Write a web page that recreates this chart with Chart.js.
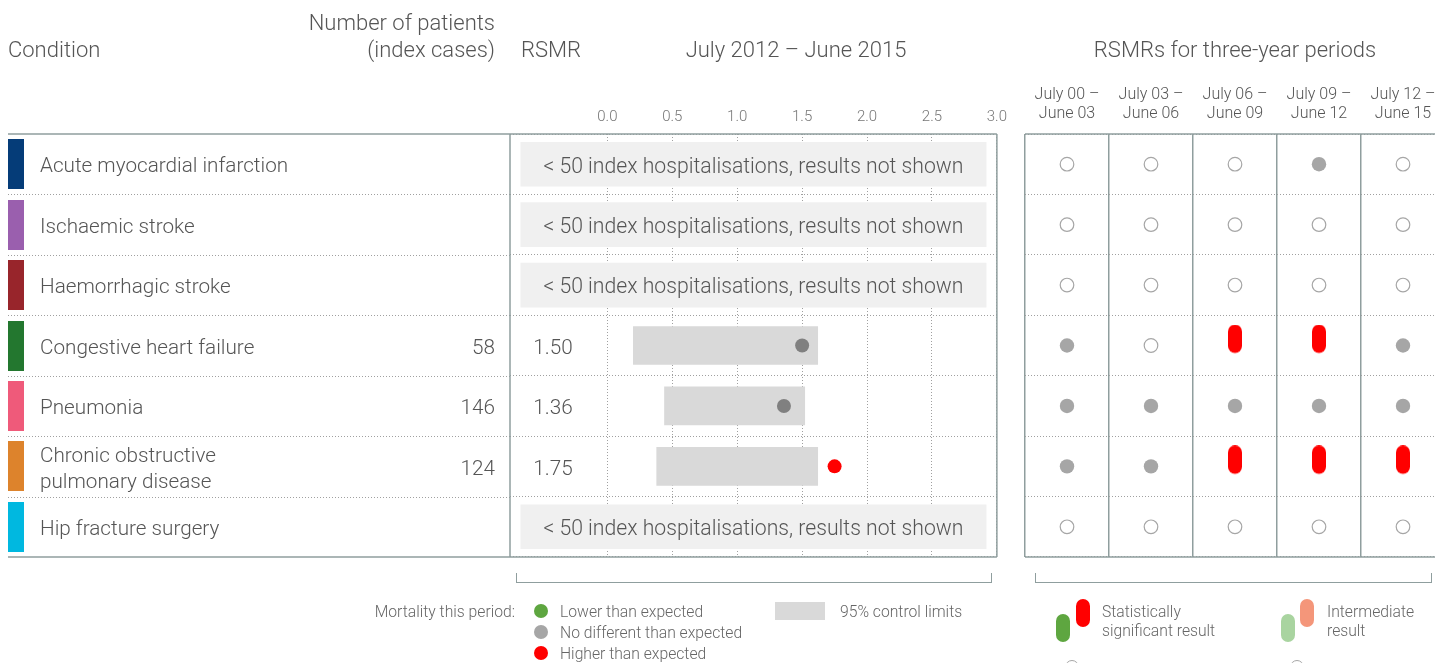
<!DOCTYPE html>
<html><head><meta charset="utf-8">
<script src="https://cdn.jsdelivr.net/npm/chart.js@4/dist/chart.umd.min.js"></script>
<style>
html,body{margin:0;padding:0;background:#fff;overflow:hidden;width:1435px;height:663px;}
body{position:relative;font-family:Roboto,'Liberation Sans',sans-serif;font-weight:300;color:#555;}
.t{position:absolute;white-space:nowrap;line-height:24px;height:24px;}
.h{font-size:22px;}
.l{font-size:15.7px;color:#666;}
#wa{position:absolute;left:0;top:0;width:1015px;height:663px;}
#wb{position:absolute;left:1000px;top:0;width:460px;height:663px;}
.dot{position:absolute;width:14px;height:14px;border-radius:7px;}
.pill{position:absolute;width:14px;height:28px;border-radius:7px;}
.br{position:absolute;border:1.5px solid #8f9e9e;border-top:none;height:9px;}
</style></head>
<body>
<div id="wa"><canvas id="ca"></canvas></div>
<div id="wb"><canvas id="cb"></canvas></div>

<div class="t h" style="left:8px;top:38px;">Condition</div>
<div class="t h" style="right:940px;top:11px;">Number of patients</div>
<div class="t h" style="right:940px;top:38px;">(index cases)</div>
<div class="t h" style="left:521px;top:38px;">RSMR</div>
<div class="t h" style="left:796px;top:38px;transform:translateX(-50%);">July 2012 – June 2015</div>
<div class="t h" style="left:1235px;top:38px;transform:translateX(-50%);">RSMRs for three-year periods</div>

<div class="br" style="left:516px;top:573px;width:474px;"></div>
<div class="br" style="left:1035px;top:573px;width:395px;"></div>

<div class="t l" style="right:920px;top:600px;">Mortality this period:</div>
<div class="dot" style="left:534px;top:604px;background:#5ea640;"></div>
<div class="t l" style="left:560px;top:600px;">Lower than expected</div>
<div class="dot" style="left:534px;top:625px;background:#a6a6a6;"></div>
<div class="t l" style="left:560px;top:621px;">No different than expected</div>
<div class="dot" style="left:534px;top:646px;background:#ff0000;"></div>
<div class="t l" style="left:560px;top:642px;">Higher than expected</div>
<div style="position:absolute;left:775px;top:602px;width:50px;height:18px;background:#d9d9d9;"></div>
<div class="t l" style="left:840px;top:600px;">95% control limits</div>

<div class="pill" style="left:1056px;top:614px;background:#5ea640;"></div>
<div class="pill" style="left:1076px;top:599px;background:#ff0000;"></div>
<div class="t l" style="left:1102px;top:600px;">Statistically</div>
<div class="t l" style="left:1102px;top:619px;">significant result</div>
<div class="pill" style="left:1281px;top:614px;background:#a9d4a0;"></div>
<div class="pill" style="left:1300px;top:599px;background:#f4967a;"></div>
<div class="t l" style="left:1327px;top:600px;">Intermediate</div>
<div class="t l" style="left:1327px;top:619px;">result</div>
<div class="dot" style="left:1065px;top:660px;border:1.2px solid #a6a6a6;box-sizing:border-box;"></div>
<div class="dot" style="left:1290px;top:660px;border:1.2px solid #a6a6a6;box-sizing:border-box;"></div>

<script>
// ---------- data ----------
const conditions = ['Acute myocardial infarction','Ischaemic stroke','Haemorrhagic stroke','Congestive heart failure','Pneumonia',['Chronic obstructive','pulmonary disease'],'Hip fracture surgery'];
const conditionColors = ['#053c78','#9a5fae','#98252b','#23772f','#ef5a7a','#dd832c','#00b8e0'];
const patients = [null,null,null,58,146,124,null];
const rsmr = [null,null,null,1.50,1.36,1.75,null];
const rsmrStatus = [null,null,null,'same','same','higher',null];
const limitLow = [null,null,null,0.20,0.44,0.38,null];
const limitHigh = [null,null,null,1.62,1.52,1.62,null];
const axisTicks = [0,0.5,1.0,1.5,2.0,2.5,3.0];
const periods = [['July 00 –','June 03'],['July 03 –','June 06'],['July 06 –','June 09'],['July 09 –','June 12'],['July 12 –','June 15']];
// none = <50 cases (open), same = no different, higher = significantly higher
const periodStatus = [
  ['none','none','none','same','none'],
  ['none','none','none','none','none'],
  ['none','none','none','none','none'],
  ['same','none','higher','higher','same'],
  ['same','same','same','same','same'],
  ['same','same','higher','higher','higher'],
  ['none','none','none','none','none']
];
const notShownText = '< 50 index hospitalisations, results not shown';

// ---------- styles ----------
const FAM = "Roboto, 'Liberation Sans', sans-serif";
const TEXT = '#555';
const FRAME = '#8f9e9e';
const DOT = '#a0a0a0';
const statusColor = {same:'#808080', higher:'#ff0000', lower:'#5ea640'};
const NOT_SHOWN_RANGE = [-0.667, 2.917];
const rowKeys = conditions.map(c => Array.isArray(c) ? c.join(' ') : c);
const periodKeys = periods.map(p => p.join(' '));

function pill(color){
  const c = document.createElement('canvas'); c.width = 14; c.height = 42;
  const g = c.getContext('2d'); g.fillStyle = color; g.beginPath();
  g.arc(7,7,7,Math.PI,0); g.lineTo(14,21.5); g.arc(7,21.5,7,0,Math.PI); g.closePath(); g.fill();
  return c;
}

function line(ctx,x1,y1,x2,y2){ctx.beginPath();ctx.moveTo(x1,y1);ctx.lineTo(x2,y2);ctx.stroke();}

const tablePlugin = {
  id:'table',
  afterDraw(chart){
    const {ctx, chartArea:a, scales:{x,y}} = chart;
    const step = y.getPixelForValue(1) - y.getPixelForValue(0);
    ctx.save();
    ctx.strokeStyle = DOT; ctx.lineWidth = 1; ctx.setLineDash([1,2]);
    for (let i=1;i<rowKeys.length;i++){
      const yy = Math.round(y.getPixelForValue(i) - step/2) + 0.5;
      line(ctx, 8, yy, a.left, yy);
    }
    ctx.setLineDash([]);
    ctx.strokeStyle = FRAME; ctx.lineWidth = 1.5;
    line(ctx, 8, a.top, a.right, a.top);
    line(ctx, 8, a.bottom, a.right, a.bottom);
    line(ctx, a.left, a.top, a.left, a.bottom);
    line(ctx, a.right, a.top, a.right, a.bottom);
    ctx.textBaseline = 'middle';
    rowKeys.forEach((k,i)=>{
      const yc = y.getPixelForValue(i);
      const ty = yc + 3;
      ctx.fillStyle = conditionColors[i];
      ctx.fillRect(8, Math.round(yc-25), 16, 50);
      ctx.fillStyle = TEXT;
      ctx.font = '300 20.7px ' + FAM;
      ctx.textAlign = 'left';
      const lines = Array.isArray(conditions[i]) ? conditions[i] : [conditions[i]];
      lines.forEach((l,n)=> ctx.fillText(l, 40, ty + (n-(lines.length-1)/2)*26));
      if (patients[i] != null){ ctx.textAlign='right'; ctx.fillText(String(patients[i]), 495, ty); }
      ctx.textAlign = 'center';
      if (rsmr[i] != null){ ctx.fillText(rsmr[i].toFixed(2), 553, ty); }
      else {
        ctx.font = '300 21.2px ' + FAM;
        const cx = (x.getPixelForValue(NOT_SHOWN_RANGE[0]) + x.getPixelForValue(NOT_SHOWN_RANGE[1]))/2;
        ctx.fillText(notShownText, cx, ty);
      }
    });
    ctx.restore();
  }
};

new Chart(document.getElementById('ca'), {
  type:'bar',
  data:{
    labels: rowKeys,
    datasets:[
      {type:'scatter', order:0,
       data: rsmr.map((v,i)=> v==null ? null : {x:v, y:rowKeys[i]}).filter(Boolean),
       pointRadius:7, pointHoverRadius:7, borderWidth:0,
       backgroundColor: rsmrStatus.filter(s=>s).map(s=>statusColor[s])},
      {type:'bar', order:1, data: limitLow.map((v,i)=> v==null ? null : [v, limitHigh[i]]),
       backgroundColor:'#d9d9d9', barThickness:38, grouped:false},
      {type:'bar', order:2, data: rsmr.map(v => v==null ? NOT_SHOWN_RANGE : null),
       backgroundColor:'#f0f0f0', barThickness:44, grouped:false}
    ]
  },
  options:{
    indexAxis:'y', responsive:true, maintainAspectRatio:false, animation:false,
    layout:{padding:{left:510, right:15, top:94, bottom:106}},
    plugins:{legend:{display:false}, tooltip:{enabled:false}},
    scales:{
      x:{type:'linear', position:'top', min:-0.75, max:3.0,
         afterBuildTicks: s => { s.ticks = axisTicks.map(v=>({value:v})); },
         afterFit: s => { s.height = 40; },
         ticks:{padding:8, color:'#777', font:{family:FAM, size:15, weight:300}, callback: v => Number(v).toFixed(1)},
         grid:{color:DOT, lineWidth:1, drawTicks:false},
         border:{display:false, dash:[1,2]}},
      y:{type:'category', labels: rowKeys, offset:true,
         afterFit: s => { s.width = 0; },
         ticks:{display:false},
         grid:{offset:true, color:DOT, lineWidth:1, drawTicks:false},
         border:{display:false, dash:[1,2]}}
    }
  },
  plugins:[tablePlugin]
});

const periodPoints = st => {
  const out = [];
  periodStatus.forEach((row,i)=> row.forEach((s,j)=>{ if (s===st) out.push({x:periodKeys[j], y:rowKeys[i]}); }));
  return out;
};

const framePluginB = {
  id:'frameB',
  afterDraw(chart){
    const {ctx, chartArea:a} = chart;
    ctx.save(); ctx.strokeStyle = FRAME; ctx.lineWidth = 1.5;
    line(ctx, a.left, a.top, a.right, a.top);
    line(ctx, a.left, a.bottom, a.right, a.bottom);
    ctx.restore();
  }
};

new Chart(document.getElementById('cb'), {
  type:'scatter',
  data:{
    datasets:[
      {data: periodPoints('higher'), pointStyle: pill(statusColor.higher), pointRadius:7, pointHoverRadius:7},
      {data: periodPoints('same'), pointRadius:7.2, pointHoverRadius:7.2, borderWidth:0, backgroundColor:'#a6a6a6'},
      {data: periodPoints('none'), pointRadius:6.8, pointHoverRadius:6.8, borderWidth:1.2, borderColor:'#a6a6a6', backgroundColor:'#fff'}
    ]
  },
  options:{
    responsive:true, maintainAspectRatio:false, animation:false,
    layout:{padding:{left:25, right:15, top:74, bottom:106}},
    plugins:{legend:{display:false}, tooltip:{enabled:false}},
    scales:{
      x:{type:'category', labels: periodKeys, position:'top', offset:true,
         afterFit: s => { s.height = 60; },
         ticks:{padding:10.5, color:TEXT, font:{family:FAM, size:16, weight:300, lineHeight:1.2},
                callback: (v,i) => periods[i]},
         grid:{offset:true, color:FRAME, lineWidth:1.5, drawTicks:false},
         border:{display:false}},
      y:{type:'category', labels: rowKeys, offset:true, position:'left',
         afterFit: s => { s.width = 0; },
         ticks:{display:false},
         grid:{offset:true, color:DOT, lineWidth:1, drawTicks:false},
         border:{display:false, dash:[1,2]}}
    }
  },
  plugins:[framePluginB]
});
</script>
</body></html>
